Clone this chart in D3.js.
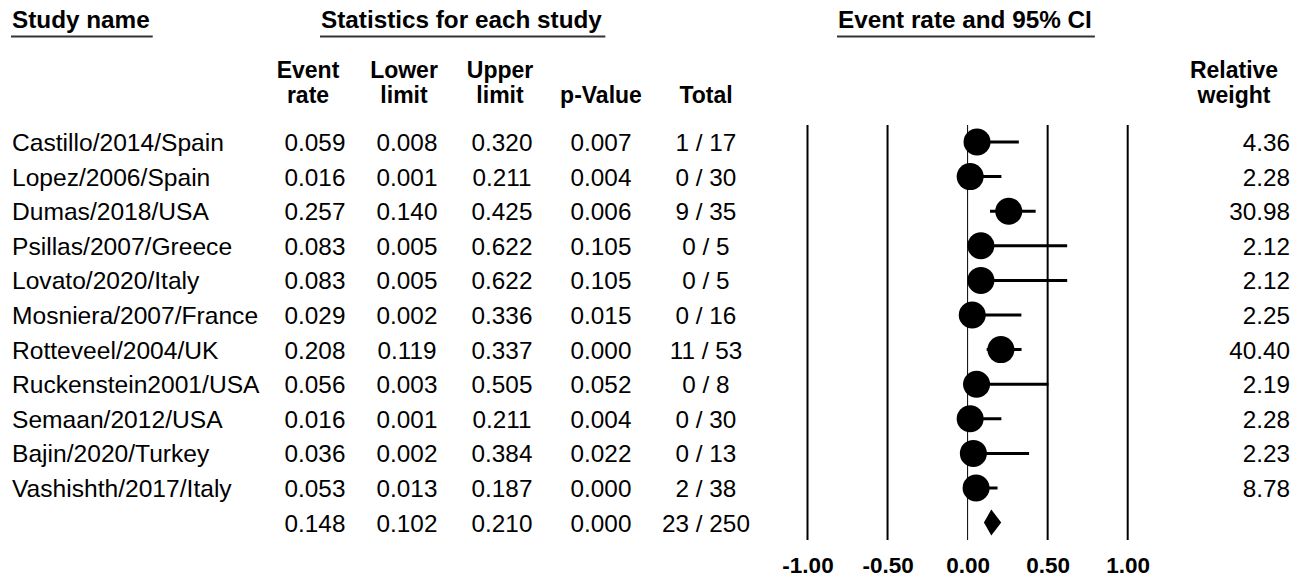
<html>
<head>
<title>Forest plot</title>
<script src="https://d3js.org/d3.v7.min.js"></script>
<style>
body { margin: 0; background: #fff; }
text { font-family: Arial, "Liberation Sans", sans-serif; fill: #000; }
.hd { font-weight: bold; }
</style>
</head>
<body>
<script type="text/javascript">

// data
var studies = ["Castillo/2014/Spain", "Lopez/2006/Spain", "Dumas/2018/USA", "Psillas/2007/Greece",
  "Lovato/2020/Italy", "Mosniera/2007/France", "Rotteveel/2004/UK", "Ruckenstein2001/USA",
  "Semaan/2012/USA", "Bajin/2020/Turkey", "Vashishth/2017/Italy"];
var eventRate = [0.059, 0.016, 0.257, 0.083, 0.083, 0.029, 0.208, 0.056, 0.016, 0.036, 0.053];
var lowerLimit = [0.008, 0.001, 0.140, 0.005, 0.005, 0.002, 0.119, 0.003, 0.001, 0.002, 0.013];
var upperLimit = [0.320, 0.211, 0.425, 0.622, 0.622, 0.336, 0.337, 0.505, 0.211, 0.384, 0.187];
var pValue = [0.007, 0.004, 0.006, 0.105, 0.105, 0.015, 0.000, 0.052, 0.004, 0.022, 0.000];
var totals = ["1 / 17", "0 / 30", "9 / 35", "0 / 5", "0 / 5", "0 / 16", "11 / 53", "0 / 8", "0 / 30", "0 / 13", "2 / 38"];
var weights = [4.36, 2.28, 30.98, 2.12, 2.12, 2.25, 40.40, 2.19, 2.28, 2.23, 8.78];
var summaryRate = 0.148, summaryLower = 0.102, summaryUpper = 0.210, summaryP = 0.000, summaryTotal = "23 / 250";
var ticks = [-1, -0.5, 0, 0.5, 1];

var width = 1301, height = 580;

var svg = d3.select("body").append("svg")
    .attr("width", width)
    .attr("height", height);

var rows = studies.concat(["summary"]);
var data = studies.map(function(s, i) {
  return {name: s, rate: eventRate[i], lo: lowerLimit[i], hi: upperLimit[i], p: pValue[i], total: totals[i], w: weights[i]};
});
var summary = {name: "summary", rate: summaryRate, lo: summaryLower, hi: summaryUpper, p: summaryP, total: summaryTotal};
var all = data.concat([summary]);

var x = d3.scaleLinear().domain([-1, 1]).range([807.5, 1127.7]);
var y = d3.scalePoint().domain(rows).range([142, 522.6]);

// column headers
function header(txt, xx, yy, anchor, underline) {
  var t = svg.append("text").attr("class", "hd")
    .attr("x", xx).attr("y", yy)
    .attr("text-anchor", anchor || "start")
    .style("font-size", "24.3px")
    .text(txt);
  if (underline) {
    var bb = t.node().getBBox();
    svg.append("line")
      .attr("x1", bb.x - 1).attr("x2", bb.x + bb.width + 3)
      .attr("y1", 36.5).attr("y2", 36.5)
      .attr("stroke", "#333").attr("stroke-width", 2);
  }
  return t;
}
header("Study name", 12, 28, "start", true);
header("Statistics for each study", 321, 28, "start", true);
header("Event rate and 95% CI", 838, 28, "start", true);

var sub = [
  {x: 308, l1: "Event", l2: "rate"},
  {x: 404, l1: "Lower", l2: "limit"},
  {x: 500, l1: "Upper", l2: "limit"},
  {x: 601, l1: "", l2: "p-Value"},
  {x: 706, l1: "", l2: "Total"},
  {x: 1234, l1: "Relative", l2: "weight"}
];
sub.forEach(function(d) {
  svg.append("text").attr("class", "hd").attr("x", d.x).attr("y", 78)
    .attr("text-anchor", "middle").style("font-size", "23px").text(d.l1);
  svg.append("text").attr("class", "hd").attr("x", d.x).attr("y", 103)
    .attr("text-anchor", "middle").style("font-size", "23px").text(d.l2);
});

// table text
var fmt = function(v) { return v.toFixed(3); };
var cols = [
  {x: 315, f: function(d) { return fmt(d.rate); }},
  {x: 407, f: function(d) { return fmt(d.lo); }},
  {x: 502, f: function(d) { return fmt(d.hi); }},
  {x: 601, f: function(d) { return fmt(d.p); }},
  {x: 706, f: function(d) { return d.total; }}
];

svg.selectAll(".name")
    .data(data)
  .enter().append("text")
    .attr("class", "name")
    .attr("x", 12)
    .attr("y", function(d) { return y(d.name) + 9; })
    .style("font-size", "24.6px")
    .text(function(d) { return d.name; });

cols.forEach(function(c) {
  svg.append("g").selectAll("text")
      .data(all)
    .enter().append("text")
      .attr("x", c.x)
      .attr("y", function(d) { return y(d.name) + 9; })
      .attr("text-anchor", "middle")
      .style("font-size", "24.3px")
      .text(c.f);
});

svg.selectAll(".wt")
    .data(data)
  .enter().append("text")
    .attr("class", "wt")
    .attr("x", 1290)
    .attr("y", function(d) { return y(d.name) + 9; })
    .attr("text-anchor", "end")
    .style("font-size", "24.3px")
    .text(function(d) { return d.w.toFixed(2); });

// vertical reference lines
svg.selectAll(".grid")
    .data(ticks)
  .enter().append("line")
    .attr("class", "grid")
    .attr("x1", function(d) { return x(d); })
    .attr("x2", function(d) { return x(d); })
    .attr("y1", 125).attr("y2", 540)
    .attr("stroke", "#000")
    .attr("stroke-width", function(d) { return d === 0 ? 1 : 2; });

// axis labels
var axis = svg.append("g")
    .attr("transform", "translate(0,557)")
    .call(d3.axisBottom(x).tickValues(ticks).tickSize(0).tickPadding(0)
      .tickFormat(function(d) { return d.toFixed(2); }));
axis.select(".domain").remove();
axis.selectAll("text")
    .attr("dy", "0.71em")
    .style("font-size", "22.5px")
    .style("font-weight", "bold")
    .style("font-family", "Arial, 'Liberation Sans', sans-serif")
    .attr("fill", "#000");

// confidence intervals and points
svg.selectAll(".ci")
    .data(data)
  .enter().append("line")
    .attr("class", "ci")
    .attr("x1", function(d) { return x(d.lo); })
    .attr("x2", function(d) { return x(d.hi); })
    .attr("y1", function(d) { return y(d.name); })
    .attr("y2", function(d) { return y(d.name); })
    .attr("stroke", "#000")
    .attr("stroke-width", 3);

svg.selectAll(".pt")
    .data(data)
  .enter().append("circle")
    .attr("class", "pt")
    .attr("cx", function(d) { return x(d.rate); })
    .attr("cy", function(d) { return y(d.name); })
    .attr("r", 13.5)
    .attr("fill", "#000");

// summary diamond
var sy = y("summary");
svg.append("path")
    .attr("d", "M" + x(summary.lo) + "," + sy +
               "L" + x(summary.rate) + "," + (sy - 13) +
               "L" + x(summary.hi) + "," + sy +
               "L" + x(summary.rate) + "," + (sy + 13) + "Z")
    .attr("fill", "#000");

</script>
</body>
</html>
